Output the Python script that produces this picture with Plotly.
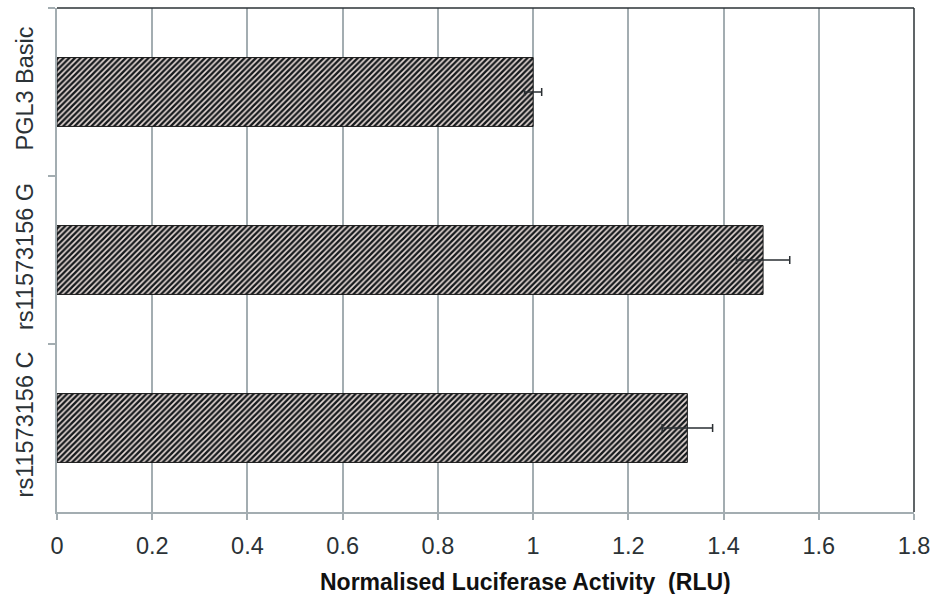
import plotly.graph_objects as go

categories = ["PGL3 Basic", "rs11573156 G", "rs11573156 C"]
values = [1.0, 1.483, 1.324]
errors = [0.018, 0.056, 0.053]
x_ticks = [0, 0.2, 0.4, 0.6, 0.8, 1, 1.2, 1.4, 1.6, 1.8]
x_tick_labels = ["0", "0.2", "0.4", "0.6", "0.8", "1", "1.2", "1.4", "1.6", "1.8"]
x_title = "<b>Normalised Luciferase Activity  (RLU)</b>"

fig = go.Figure()
fig.add_trace(go.Bar(
    y=categories, x=values, orientation="h",
    marker=dict(color="white",
                line=dict(color="#1a1a1a", width=1),
                pattern=dict(shape="/", size=4, solidity=0.6,
                             fgcolor="#161a1d", bgcolor="#e8dcd8", fillmode="replace")),
    error_x=dict(type="data", array=errors, visible=True, color="#2a2f33",
                 thickness=1.5, width=4),
))

fig.update_layout(
    width=932, height=594,
    margin=dict(l=57, r=18, t=8, b=82),
    paper_bgcolor="white", plot_bgcolor="white",
    bargap=0.59, showlegend=False,
    font=dict(family="Liberation Sans, Arial, sans-serif", color="#2b3236"),
    xaxis=dict(range=[0, 1.8], tickvals=x_ticks, ticktext=x_tick_labels,
               showgrid=True, gridcolor="#a3adb1", gridwidth=1.5,
               showline=True, linecolor="#a3adb1", linewidth=1.5,
               ticks="outside", ticklen=6, tickcolor="#a3adb1", tickwidth=1.5,
               tickfont=dict(size=23.5), zeroline=False, automargin=False,
               ticklabelstandoff=6),
    yaxis=dict(autorange="reversed", tickangle=-90, tickson="boundaries",
               showline=True, linecolor="#a3adb1", linewidth=1.5,
               ticks="outside", ticklen=7, tickcolor="#a3adb1", tickwidth=1.5,
               tickfont=dict(size=23.5), showgrid=False, ticklabelstandoff=13,
               automargin=False),
    shapes=[
        dict(type="line", xref="x domain", yref="y domain", x0=0, x1=1, y0=1, y1=1,
             line=dict(color="#2b3236", width=1.5)),
        dict(type="line", xref="x domain", yref="y domain", x0=1, x1=1, y0=0, y1=1,
             line=dict(color="#2b3236", width=1.5)),
    ],
    annotations=[
        dict(text=x_title, xref="x domain", yref="paper", x=0.547, y=0,
             xanchor="center", yanchor="top", yshift=-55, showarrow=False,
             font=dict(size=23, color="#111")),
    ],
)

fig.write_html("out.html")
